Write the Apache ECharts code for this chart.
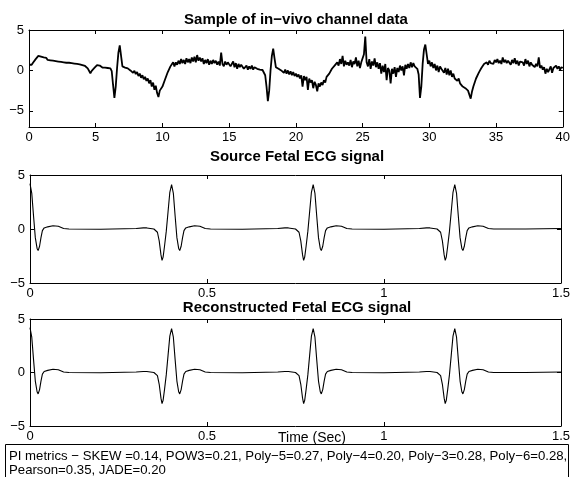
<!DOCTYPE html>
<html>
<head>
<meta charset="utf-8">
<script src="https://cdn.jsdelivr.net/npm/echarts@6/dist/echarts.min.js"></script>
<style>
html,body{margin:0;padding:0;background:#fff;}
#chart{width:573px;height:477px;}
</style>
</head>
<body>
<div id="chart"></div>
<script>
// ---- Data ----
const titles = ['Sample of in\u2212vivo channel data', 'Source Fetal ECG signal', 'Reconstructed Fetal ECG signal'];
const xLabelName = 'Time (Sec)';
const metricsLines = [
  'PI metrics \u2212 SKEW =0.14, POW3=0.21, Poly\u22125=0.27, Poly\u22124=0.20, Poly\u22123=0.28, Poly\u22126=0.28,',
  'Pearson=0.35, JADE=0.20'
];
const inVivoTicksX = [0, 5, 10, 15, 20, 25, 30, 35, 40];
const inVivoTicksY = [-5, 0, 5];
const ecgTicksX = [0, 0.5, 1, 1.5];
const ecgTicksY = [-5, 0, 5];
const inVivoStep = 0.1;
const inVivoValues = [
  0.7, 0.85, 0.7, 0.95, 1.05, 1.4, 1.45, 1.8, 1.65, 1.7,
  1.5, 1.6, 1.4, 1.55, 1.3, 1.45, 1.25, 1.4, 1.2, 1.35,
  1.15, 1.3, 1.1, 1.25, 1.05, 1.2, 1.0, 1.15, 0.95, 1.1,
  0.95, 1.05, 0.9, 1.0, 0.85, 0.95, 0.8, 0.9, 0.75, 0.85,
  0.65, 0.8, 0.55, 0.6, 0.25, 0.15, -0.35, -0.05, 0.05, 0.3,
  0.35, 0.65, 0.5, 0.6, 0.4, 0.35, 0.2, 0.35, 0.15, 0.3,
  0.15, 0.25, -0.1, -1.8, -3.4, -2.0, 0.3, 2.2, 3.1, 1.8,
  0.5, 0.3, 0.35, 0.15, 0.25, 0.05, 0.0, -0.05, -0.3, -0.05,
  -0.45, -0.2, -0.7, -0.4, -0.9, -0.6, -1.1, -0.8, -1.3, -1.0,
  -1.6, -1.2, -2.0, -1.5, -2.4, -1.9, -2.8, -3.3, -2.5, -2.7,
  -2.0, -2.1, -1.1, -1.2, -0.2, -0.3, 0.5, 0.3, 1.0, 0.5,
  1.0, 0.7, 1.2, 0.8, 1.4, 0.9, 1.3, 0.8, 1.5, 1.0,
  1.4, 0.9, 1.6, 1.1, 1.7, 1.0, 1.9, 1.2, 1.6, 1.1,
  1.5, 0.8, 1.3, 0.9, 1.4, 0.7, 1.2, 0.8, 1.3, 0.9,
  1.2, 0.7, 1.1, 0.6, 2.2, 0.8, 0.5, 1.1, 0.7, 1.0,
  0.8, 0.5, 0.7, 1.1, 0.4, 0.9, 0.2, 0.8, 0.4, 0.7,
  0.5, 0.2, 0.4, 0.6, 0.1, 0.5, 0.2, 0.6, 0.1, 0.4,
  0.4, 0.2, 0.35, 0.1, 0.25, 0.05, -0.15, -0.6, -2.0, -3.8,
  -2.5, 0.0, 1.8, 2.7, 1.5, 0.4, 0.6, 0.2, 0.4, 0.0,
  0.2, -0.3, 0.1, -0.4, 0.0, -0.5, -0.1, -0.6, -0.2, -0.7,
  -0.4, -0.8, -0.5, -1.0, -0.6, -2.0, -0.7, -1.2, -0.8, -2.4,
  -1.0, -1.5, -1.2, -2.2, -1.4, -1.8, -2.6, -1.6, -2.0, -1.5,
  -1.8, -1.2, -1.5, -0.8, -1.0, -0.4, -0.6, 0.2, 0.0, 0.6,
  0.4, 1.0, 0.6, 1.4, 0.8, 1.8, 0.5, 1.2, 0.7, 1.0,
  0.6, 1.3, 0.4, 1.1, 0.8, 1.6, 0.5, 1.2, 0.3, 1.0,
  0.8, 2.0, 4.2, 1.0, 0.5, 1.4, 0.2, 1.1, 0.6, 1.5,
  0.4, 1.0, 0.2, 0.9, -0.4, 0.6, -0.2, 0.8, -1.2, 0.3,
  0.0, -1.6, 0.2, -0.4, 0.4, -0.8, 0.3, -0.2, 0.6, 0.0,
  0.5, -0.6, 0.7, 0.2, 0.8, 0.3, 1.0, 0.4, 0.9, 0.5,
  0.7, 0.2, -0.5, -3.4, -2.0, 0.8, 2.6, 3.2, 2.0, 0.8,
  1.2, 0.5, 1.0, 0.3, 0.8, 0.0, 0.6, -0.2, 0.5, 0.2,
  0.4, -0.3, 0.3, -0.5, 0.2, -0.6, 0.0, -0.8, -0.4, -1.0,
  -0.8, -1.3, -1.0, -1.6, -1.4, -2.0, -1.8, -2.2, -2.0, -2.5,
  -2.4, -3.5, -2.6, -2.0, -1.5, -1.0, -0.8, -0.3, 0.0, 0.3,
  0.4, 0.8, 0.6, 1.0, 0.7, 1.2, 0.9, 1.1, 0.8, 1.3,
  1.0, 1.4, 0.9, 1.2, 0.8, 1.6, 1.0, 1.3, 0.9, 1.2,
  1.1, 0.7, 1.3, 0.9, 1.5, 0.8, 1.2, 0.6, 1.1, 0.9,
  1.0, 0.6, 1.4, 0.8, 1.2, 0.5, 1.0, 0.7, 0.9, 0.4,
  0.8, 0.5, 1.6, 0.3, 0.6, 0.1, 0.4, -0.4, 0.2, -0.2,
  0.0, 0.5, -0.3, 0.3, 0.1, 0.6, 0.2, 0.5, 0.1, 0.4,
  0.3
];
const ecgTime = [
  0, 0.005, 0.01, 0.015, 0.02, 0.023, 0.027, 0.031, 0.035, 0.04, 0.05, 0.065, 0.08, 0.095, 0.11, 0.2, 0.3, 0.32, 0.33, 0.34, 0.35,
  0.355, 0.36, 0.365, 0.37, 0.373, 0.376, 0.38, 0.385, 0.39, 0.395, 0.4, 0.405, 0.41, 0.415, 0.42, 0.423, 0.427, 0.431, 0.435, 0.44, 0.45, 0.465, 0.48, 0.495, 0.51, 0.6, 0.7, 0.72, 0.73, 0.74, 0.75,
  0.755, 0.76, 0.765, 0.77, 0.773, 0.776, 0.78, 0.785, 0.79, 0.795, 0.8, 0.805, 0.81, 0.815, 0.82, 0.823, 0.827, 0.831, 0.835, 0.84, 0.85, 0.865, 0.88, 0.895, 0.91, 1.0, 1.1, 1.12, 1.13, 1.14, 1.15,
  1.155, 1.16, 1.165, 1.17, 1.173, 1.176, 1.18, 1.185, 1.19, 1.195, 1.2, 1.205, 1.21, 1.215, 1.22, 1.223, 1.227, 1.231, 1.235, 1.24, 1.25, 1.265, 1.28, 1.295, 1.31, 1.4, 1.5
];
const sourceEcg = [
  4.2, 3.3, 1.2, -0.8, -1.8, -2.0, -1.6, -0.8, -0.15, 0.1, 0.2, 0.3, 0.25, 0.05, 0.0, -0.02, 0.05, 0.1, 0.1, 0.05, 0.0,
  -0.05, -0.3, -1.1, -2.4, -2.9, -2.6, -1.6, -0.2, 1.6, 3.4, 4.1, 3.3, 1.2, -0.8, -1.8, -2.0, -1.6, -0.8, -0.15, 0.1, 0.2, 0.3, 0.25, 0.05, 0.0, -0.02, 0.05, 0.1, 0.1, 0.05, 0.0,
  -0.05, -0.3, -1.1, -2.4, -2.9, -2.6, -1.6, -0.2, 1.6, 3.4, 4.1, 3.3, 1.2, -0.8, -1.8, -2.0, -1.6, -0.8, -0.15, 0.1, 0.2, 0.3, 0.25, 0.05, 0.0, -0.02, 0.05, 0.1, 0.1, 0.05, 0.0,
  -0.05, -0.3, -1.1, -2.4, -2.9, -2.6, -1.6, -0.2, 1.6, 3.4, 4.1, 3.3, 1.2, -0.8, -1.8, -2.0, -1.6, -0.8, -0.15, 0.1, 0.2, 0.3, 0.25, 0.05, 0.0, 0.0, 0.05
];
const reconstructedEcg = [
  4.2, 3.3, 1.2, -0.8, -1.8, -2.0, -1.6, -0.8, -0.15, 0.1, 0.2, 0.3, 0.25, 0.05, 0.0, -0.02, 0.05, 0.1, 0.1, 0.05, 0.0,
  -0.05, -0.3, -1.1, -2.4, -2.9, -2.6, -1.6, -0.2, 1.6, 3.4, 4.1, 3.3, 1.2, -0.8, -1.8, -2.0, -1.6, -0.8, -0.15, 0.1, 0.2, 0.3, 0.25, 0.05, 0.0, -0.02, 0.05, 0.1, 0.1, 0.05, 0.0,
  -0.05, -0.3, -1.1, -2.4, -2.9, -2.6, -1.6, -0.2, 1.6, 3.4, 4.1, 3.3, 1.2, -0.8, -1.8, -2.0, -1.6, -0.8, -0.15, 0.1, 0.2, 0.3, 0.25, 0.05, 0.0, -0.02, 0.05, 0.1, 0.1, 0.05, 0.0,
  -0.05, -0.3, -1.1, -2.4, -2.9, -2.6, -1.6, -0.2, 1.6, 3.4, 4.1, 3.3, 1.2, -0.8, -1.8, -2.0, -1.6, -0.8, -0.15, 0.1, 0.2, 0.3, 0.25, 0.05, 0.0, 0.0, 0.05
];

// ---- Chart ----
const FONT = '"Liberation Sans", Arial, Helvetica, sans-serif';
const fmt = v => String(v).replace('-', '\u2212');
const chart = echarts.init(document.getElementById('chart'), null, {renderer: 'canvas'});

const grids = [
  {left: 29, right: 10, top: 30, height: 97},
  {left: 30, right: 9, top: 175, height: 108},
  {left: 30, right: 9, top: 319, height: 107}
];
const xRanges = [[0, 40], [0, 1.5], [0, 1.5]];
const yRanges = [[-7, 5], [-5, 5], [-5, 5]];
const xTicks = [inVivoTicksX, ecgTicksX, ecgTicksX];
const yTicks = [inVivoTicksY, ecgTicksY, ecgTicksY];

const line = {show: true, onZero: false, lineStyle: {color: '#000', width: 1}};
const tickStyle = (vals) => ({show: true, inside: true, length: 4, customValues: vals, lineStyle: {color: '#000', width: 1}});
const labelStyle = (vals, margin) => ({show: true, customValues: vals, formatter: fmt, color: '#000', fontSize: 13, fontFamily: FONT, margin: margin, showMinLabel: true, showMaxLabel: true});
const xAxes = [], yAxes = [];
grids.forEach((g, i) => {
  xAxes.push({
    type: 'value', gridIndex: i, min: xRanges[i][0], max: xRanges[i][1], position: 'bottom',
    axisLine: line, splitLine: {show: false},
    axisTick: tickStyle(xTicks[i]),
    axisLabel: labelStyle(xTicks[i], 4)
  });
  xAxes.push({
    type: 'value', gridIndex: i, min: xRanges[i][0], max: xRanges[i][1], position: 'top',
    axisLine: line, splitLine: {show: false},
    axisTick: tickStyle(xTicks[i]),
    axisLabel: {show: false}
  });
  yAxes.push({
    type: 'value', gridIndex: i, min: yRanges[i][0], max: yRanges[i][1], position: 'left',
    axisLine: line, splitLine: {show: false},
    axisTick: tickStyle(yTicks[i]),
    axisLabel: labelStyle(yTicks[i], 5)
  });
  yAxes.push({
    type: 'value', gridIndex: i, min: yRanges[i][0], max: yRanges[i][1], position: 'right',
    axisLine: line, splitLine: {show: false},
    axisTick: tickStyle(yTicks[i]),
    axisLabel: {show: false}
  });
});

const inVivoData = inVivoValues.map((v, k) => [+(k * inVivoStep).toFixed(2), v]);
const sourceData = ecgTime.map((t, k) => [t, sourceEcg[k]]);
const reconData = ecgTime.map((t, k) => [t, reconstructedEcg[k]]);

const seriesBase = {type: 'line', showSymbol: false, symbol: 'none', animation: false, silent: true, clip: true};
const titleStyle = {fontSize: 15, fontWeight: 'bold', color: '#000', fontFamily: FONT};

chart.setOption({
  backgroundColor: '#fff',
  animation: false,
  textStyle: {fontFamily: FONT},
  title: [
    {text: titles[0], left: 296, top: 12, textAlign: 'center', textStyle: titleStyle, padding: 0},
    {text: titles[1], left: 297, top: 149, textAlign: 'center', textStyle: titleStyle, padding: 0},
    {text: titles[2], left: 297, top: 300, textAlign: 'center', textStyle: titleStyle, padding: 0}
  ],
  grid: grids,
  xAxis: xAxes,
  yAxis: yAxes,
  series: [
    Object.assign({}, seriesBase, {xAxisIndex: 0, yAxisIndex: 0, data: inVivoData, lineStyle: {color: '#000', width: 1.8}}),
    Object.assign({}, seriesBase, {xAxisIndex: 2, yAxisIndex: 2, data: sourceData, lineStyle: {color: '#000', width: 1.1}}),
    Object.assign({}, seriesBase, {xAxisIndex: 4, yAxisIndex: 4, data: reconData, lineStyle: {color: '#000', width: 1.1}})
  ],
  graphic: [
    {type: 'text', x: 312, y: 438, style: {text: xLabelName, fontSize: 14, fontFamily: FONT, fill: '#000', align: 'center', verticalAlign: 'middle'}},
    {type: 'rect', shape: {x: 5.5, y: 444.5, width: 563, height: 40}, style: {fill: '#fff', stroke: '#000', lineWidth: 1}},
    {type: 'text', x: 9, y: 456, style: {text: metricsLines[0], fontSize: 13.2, fontFamily: FONT, fill: '#000', verticalAlign: 'middle'}},
    {type: 'text', x: 9, y: 470, style: {text: metricsLines[1], fontSize: 13.2, fontFamily: FONT, fill: '#000', verticalAlign: 'middle'}}
  ]
});
</script>
</body>
</html>
